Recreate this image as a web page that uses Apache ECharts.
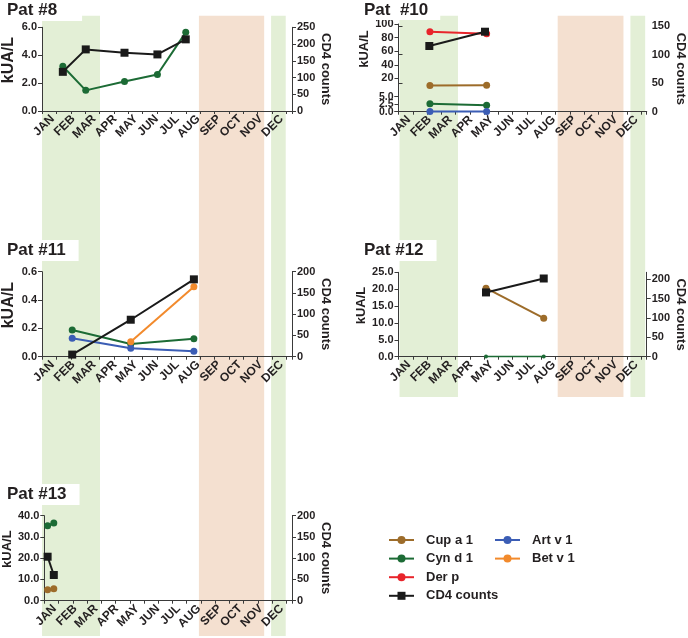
<!DOCTYPE html>
<html>
<head>
<meta charset="utf-8">
<script src="https://cdn.jsdelivr.net/npm/echarts@6/dist/echarts.min.js"></script>
<style>html,body{margin:0;padding:0;background:#fff}#c{width:688px;height:638px}</style>
</head>
<body>
<div id="c"></div>
<script>
// ---------- data ----------
const months = ['JAN','FEB','MAR','APR','MAY','JUN','JUL','AUG','SEP','OCT','NOV','DEC'];
// seasonal bands, in months from 1 January
const greenBands = [[0.05, 2.82], [11.0, 11.7]];
const orangeBands = [[7.55, 10.67]];

// Pat #8  [month, value]
const p8CynD1 = [[1.0, 3.21], [2.1, 1.48], [3.96, 2.12], [5.54, 2.62], [6.9, 5.64]];
const p8CD4   = [[1.0, 117], [2.1, 184], [3.96, 174], [5.54, 169], [6.9, 214]];
// Pat #10
const p10DerP  = [[1.49, 88.5], [4.18, 85.5]];
const p10CupA1 = [[1.49, 9.5], [4.18, 10]];
const p10CynD1 = [[1.49, 2.67], [4.18, 2.13]];
const p10ArtV1 = [[1.49, 0.1], [4.18, 0.1]];
const p10CD4   = [[1.49, 115], [4.18, 140]];
// Pat #11
const p11CynD1 = [[1.45, 0.188], [4.26, 0.09], [7.29, 0.127]];
const p11ArtV1 = [[1.45, 0.13], [4.26, 0.059], [7.29, 0.038]];
const p11BetV1 = [[4.26, 0.106], [7.29, 0.494]];
const p11CD4   = [[1.45, 5], [4.26, 87], [7.29, 182]];
// Pat #12
const p12CupA1 = [[4.23, 20.3], [7.02, 11.4]];
const p12CynD1 = [[4.23, 0.05], [7.02, 0.05]];
const p12CD4   = [[4.23, 166], [7.02, 202]];
// Pat #13
const p13CynD1 = [[0.16, 35.3], [0.46, 36.6]];
const p13CupA1 = [[0.16, 5.2], [0.46, 5.6]];
const p13CD4   = [[0.16, 103.5], [0.46, 60.5]];

// ---------- style ----------
const FONT = "'Liberation Sans', Arial, sans-serif";
const TXT = '#231f20';
const AX = '#3a3a3a';
const C = {
  cup: '#9d6c2a', cyn: '#1c6b35', der: '#e8242b', art: '#3b5db5', bet: '#f28a2c', cd4: '#1a1a1a',
  bandG: '#e3efd6', bandO: '#f4e0d0'
};
const COL1 = { left: 41, width: 251 };
const COL2 = { left: 398.5, width: 253 };

const grid = [], xAxis = [], yAxis = [], series = [];
const addGrid = g => (grid.push(g), grid.length - 1);
const addX = a => (xAxis.push(a), xAxis.length - 1);
const addY = a => (yAxis.push(a), yAxis.length - 1);

function lab(extra) {
  return Object.assign({ margin: 5, fontSize: 11, fontWeight: 'bold', color: TXT, fontFamily: FONT,
    hideOverlap: false, showMinLabel: true, showMaxLabel: true }, extra || {});
}
function valueX(g, show) {
  return addX({
    type: 'value', gridIndex: g, min: 0, max: 12, interval: 0.69, position: 'bottom', show: show, z: 5,
    axisLine: { show: true, lineStyle: { color: AX, width: 1 } },
    axisTick: { show: true, length: 3, lineStyle: { color: AX } },
    axisLabel: { show: false }, splitLine: { show: false }
  });
}
function monthX(g) {
  return addX({
    type: 'category', gridIndex: g, data: months, position: 'bottom', boundaryGap: true, z: 5,
    axisLine: { show: false }, axisTick: { show: false }, splitLine: { show: false },
    axisLabel: { interval: 0, rotate: 45, margin: 6, fontSize: 12, fontWeight: 'bold', color: TXT, fontFamily: FONT, hideOverlap: false }
  });
}
function leftY(g, min, max, interval, fmt, name, nameSize, labExtra, nameGap) {
  return addY({
    type: 'value', gridIndex: g, position: 'left', min, max, interval, z: 5,
    axisLine: { show: true, lineStyle: { color: AX, width: 1 } },
    axisTick: { show: true, length: 4, lineStyle: { color: AX } },
    splitLine: { show: false },
    axisLabel: lab(Object.assign({ formatter: fmt }, labExtra || {})),
    name: name || '', nameLocation: 'middle', nameGap: nameGap || 27, nameRotate: 90,
    nameTextStyle: { fontSize: nameSize || 13, fontWeight: 'bold', color: TXT, fontFamily: FONT, padding: [0, 0, 0, 18] }
  });
}
function rightY(g, min, max, interval, labExtra, nameGap) {
  return addY({
    type: 'value', gridIndex: g, position: 'right', min, max, interval, z: 5,
    axisLine: { show: true, lineStyle: { color: AX, width: 1 } },
    axisTick: { show: true, length: 4, lineStyle: { color: AX } },
    splitLine: { show: false },
    axisLabel: lab(labExtra),
    name: 'CD4 counts', nameLocation: 'middle', nameGap: nameGap || 22, nameRotate: -90,
    nameTextStyle: { fontSize: 13, fontWeight: 'bold', color: TXT, fontFamily: FONT }
  });
}
function line(name, data, xi, yi, color, opt) {
  opt = opt || {};
  series.push({
    type: 'line', name, data, xAxisIndex: xi, yAxisIndex: yi, clip: false,
    symbol: opt.symbol || 'circle', symbolSize: opt.size || 7,
    lineStyle: { color, width: opt.width || 2 }, itemStyle: { color },
    z: opt.z || 8, animation: false
  });
}
const f1 = v => v.toFixed(1);
const f0 = v => String(Math.round(v));

// ---------- background bands ----------
function bandGrid(col, top, bottom) {
  const g = addGrid({ left: col.left, width: col.width, top, height: bottom - top });
  const xi = addX({ type: 'value', gridIndex: g, min: 0, max: 12, show: false });
  const yi = addY({ type: 'value', gridIndex: g, min: 0, max: 1, show: false });
  const areas = [];
  greenBands.forEach(b => areas.push([{ xAxis: b[0], yAxis: 0, itemStyle: { color: C.bandG } }, { xAxis: b[1], yAxis: 1 }]));
  orangeBands.forEach(b => areas.push([{ xAxis: b[0], yAxis: 0, itemStyle: { color: C.bandO } }, { xAxis: b[1], yAxis: 1 }]));
  series.push({
    type: 'line', data: [[0, 0]], xAxisIndex: xi, yAxisIndex: yi, symbol: 'none', silent: true,
    lineStyle: { opacity: 0 }, z: -5, animation: false,
    markArea: { silent: true, data: areas, itemStyle: { opacity: 1 }, z: -5 }
  });
}
bandGrid(COL1, 15.7, 636);
bandGrid(COL2, 15.7, 397);

// ---------- Pat #8 ----------
(function () {
  const g = addGrid({ left: COL1.left, width: COL1.width, top: 27.3, height: 83.7 });
  const xv = valueX(g, true); monthX(g);
  const yl = leftY(g, 0, 6, 2, f1, 'kUA/L', 16, null, 25);
  const yr = rightY(g, 0, 250, 50, null, 20);
  line('Cyn d 1', p8CynD1, xv, yl, C.cyn);
  line('CD4 counts', p8CD4, xv, yr, C.cd4, { symbol: 'rect', size: 8 });
})();

// ---------- Pat #10 (broken left axis) ----------
(function () {
  const g = addGrid({ left: COL2.left, width: COL2.width, top: 26, height: 85.7 });
  const xv = valueX(g, true); monthX(g);
  const yr = rightY(g, 0, 150, 50);
  const gu = addGrid({ left: COL2.left, width: COL2.width, top: 24, height: 68 });
  const xu = valueX(gu, false);
  const yu = leftY(gu, 0, 100, 20, f0, 'kUA/L', 13, { showMinLabel: false });
  const gl = addGrid({ left: COL2.left, width: COL2.width, top: 96.7, height: 15 });
  const xl = valueX(gl, false);
  // lower segment: end labels on one axis, middle label on a second overlaid axis
  const yl = leftY(gl, 0, 5, 5, f1, '', 13, { fontSize: 10.5 });
  addY({
    type: 'value', gridIndex: gl, position: 'left', min: 0, max: 5, interval: 2.5, z: 5,
    axisLine: { show: false }, axisTick: { show: true, length: 4, lineStyle: { color: AX } }, splitLine: { show: false },
    axisLabel: lab({ fontSize: 10.5, formatter: v => (v === 2.5 ? '2.5' : '') })
  });
  line('Der p', p10DerP, xu, yu, C.der);
  line('Cup a 1', p10CupA1, xu, yu, C.cup);
  line('Cyn d 1', p10CynD1, xl, yl, C.cyn);
  line('Art v 1', p10ArtV1, xl, yl, C.art);
  line('CD4 counts', p10CD4, xv, yr, C.cd4, { symbol: 'rect', size: 8 });
})();

// ---------- Pat #11 ----------
(function () {
  const g = addGrid({ left: COL1.left, width: COL1.width, top: 271.7, height: 85 });
  const xv = valueX(g, true); monthX(g);
  const yl = leftY(g, 0, 0.6, 0.2, f1, 'kUA/L', 16, null, 25);
  const yr = rightY(g, 0, 200, 50, null, 19);
  line('Cyn d 1', p11CynD1, xv, yl, C.cyn);
  line('Art v 1', p11ArtV1, xv, yl, C.art);
  line('Bet v 1', p11BetV1, xv, yl, C.bet);
  line('CD4 counts', p11CD4, xv, yr, C.cd4, { symbol: 'rect', size: 8 });
})();

// ---------- Pat #12 ----------
(function () {
  const g = addGrid({ left: COL2.left, width: COL2.width, top: 272.3, height: 84.4 });
  const xv = valueX(g, true); monthX(g);
  const yl = leftY(g, 0, 25, 5, f1, 'kUA/L', 13);
  const yr = rightY(g, 0, 218, 50, { showMaxLabel: false });
  line('Cyn d 1', p12CynD1, xv, yl, C.cyn, { size: 4, width: 1.5 });
  line('Cup a 1', p12CupA1, xv, yl, C.cup);
  line('CD4 counts', p12CD4, xv, yr, C.cd4, { symbol: 'rect', size: 8 });
})();

// ---------- Pat #13 ----------
(function () {
  const g = addGrid({ left: COL1.left, width: COL1.width, top: 515.7, height: 85 });
  const xv = valueX(g, true); monthX(g);
  const yl = leftY(g, 0, 40, 10, f1, 'kUA/L', 13);
  const yr = rightY(g, 0, 200, 50, null, 20);
  line('Cyn d 1', p13CynD1, xv, yl, C.cyn);
  line('Cup a 1', p13CupA1, xv, yl, C.cup);
  line('CD4 counts', p13CD4, xv, yr, C.cd4, { symbol: 'rect', size: 8 });
})();

// ---------- titles ----------
const tStyle = { fontSize: 17, fontWeight: 'bold', color: TXT, fontFamily: FONT };
const titles = [
  { text: 'Pat #8', left: 0, top: 0, padding: [2, 25, 2, 7] },
  { text: 'Pat  #10', left: 357, top: 0, padding: [2, 12, 1, 7] },
  { text: 'Pat #11', left: 3, top: 240, padding: [2, 13, 2, 4] },
  { text: 'Pat #12', left: 360, top: 240, padding: [2, 13, 2, 4] },
  { text: 'Pat #13', left: 3, top: 484, padding: [2, 13, 2, 4] }
].map(t => Object.assign(t, { backgroundColor: '#fff', textStyle: tStyle, z: 10 }));

// ---------- legend ----------
const legStyle = { fontSize: 13, fontWeight: 'bold', color: TXT, fontFamily: FONT, lineHeight: 18, padding: [0, 0, 0, 7] };
const legend = [
  { data: ['Cup a 1', 'Cyn d 1', 'Der p', 'CD4 counts'], orient: 'vertical', left: 383, top: 526,
    itemWidth: 25, itemHeight: 10, itemGap: 0.6, textStyle: legStyle, selectedMode: false },
  { data: ['Art v 1', 'Bet v 1'], orient: 'vertical', left: 489, top: 526,
    itemWidth: 25, itemHeight: 10, itemGap: 0.6, textStyle: legStyle, selectedMode: false }
];

const chart = echarts.init(document.getElementById('c'), null, { renderer: 'canvas' });
chart.setOption({
  backgroundColor: '#fff', animation: false,
  title: titles, legend, grid, xAxis, yAxis, series
});
</script>
</body>
</html>
